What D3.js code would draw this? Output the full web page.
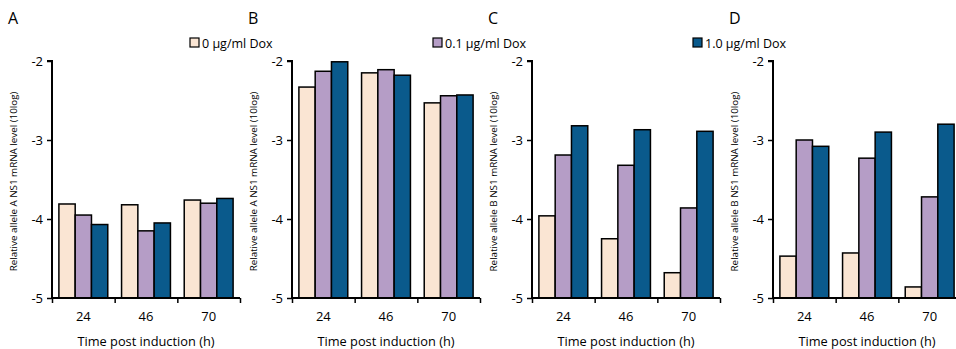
<!DOCTYPE html>
<html lang="en">
<head>
<meta charset="utf-8">
<title>NS1 mRNA levels</title>
<script src="https://cdn.jsdelivr.net/npm/d3@7"></script>
<style>
  body { margin: 0; background: #fff; }
  text { font-family: "Open Sans", "Noto Sans", sans-serif; fill: #000; }
</style>
</head>
<body>
<script>
// data
var times = ["24", "46", "70"];
var doses = ["0 µg/ml Dox", "0.1 µg/ml Dox", "1.0 µg/ml Dox"];
var panelLabels = ["A", "B", "C", "D"];
var yTitles = ["Relative allele A NS1 mRNA level (10log)",
               "Relative  allele A NS1 mRNA level (10log)",
               "Relative allele B NS1 mRNA level (10log)",
               "Relative allele B NS1 mRNA level (10log)"];
// values per panel: [time][dose]
var panelA = [[-3.81, -3.95, -4.07], [-3.82, -4.15, -4.05], [-3.76, -3.80, -3.74]];
var panelB = [[-2.33, -2.13, -2.01], [-2.15, -2.11, -2.18], [-2.53, -2.44, -2.43]];
var panelC = [[-3.96, -3.19, -2.82], [-4.25, -3.32, -2.87], [-4.68, -3.86, -2.89]];
var panelD = [[-4.47, -3.00, -3.08], [-4.43, -3.23, -2.90], [-4.86, -3.72, -2.80]];
var yTicks = [-2, -3, -4, -5];

var panels = [panelA, panelB, panelC, panelD];
var colors = ["#FAE5D3", "#B59DC6", "#0A5A8C"];

var svg = d3.select("body").append("svg")
    .attr("width", 956)
    .attr("height", 349);

var axisLeft = [52, 292, 532, 773];
var yTop = 61, yBottom = 298, w = 188;

var y = d3.scaleLinear().domain([-5, -2]).range([yBottom, yTop]);

var x0 = d3.scaleBand().domain(times).range([0, w])
    .paddingInner(0.22).paddingOuter(0.11);
var x1 = d3.scaleBand().domain(d3.range(doses.length)).range([0, x0.bandwidth()]);
var xEdge = d3.scaleLinear().domain([0, times.length]).range([0, w]);

panels.forEach(function(vals, p) {
  var g = svg.append("g").attr("transform", "translate(" + axisLeft[p] + ",0)");

  // bars
  g.selectAll("g.grp")
    .data(vals)
    .enter().append("g")
    .attr("transform", function(d, i) { return "translate(" + x0(times[i]) + ",0)"; })
    .selectAll("rect")
    .data(function(d) { return d; })
    .enter().append("rect")
    .attr("x", function(d, j) { return x1(j); })
    .attr("y", function(d) { return y(d); })
    .attr("width", x1.bandwidth())
    .attr("height", function(d) { return y(-5) - y(d); })
    .attr("fill", function(d, j) { return colors[j]; })
    .attr("stroke", "#000")
    .attr("stroke-width", 1.5);

  // y axis
  var ya = g.append("g")
    .call(d3.axisLeft(y).tickValues(yTicks).tickSize(5).tickPadding(4).tickFormat(function(d) { return String(d); }));
  ya.select(".domain").attr("stroke-width", 2).attr("d", "M-5," + yTop + "H0V" + yBottom);
  ya.selectAll(".tick line").attr("stroke-width", 1.5);
  ya.selectAll("text").style("font-size", "13px").style("font-family", "'Open Sans', sans-serif");

  // x axis edges
  var xa = g.append("g").attr("transform", "translate(0," + yBottom + ")")
    .call(d3.axisBottom(xEdge).tickValues(d3.range(times.length + 1)).tickSize(5).tickFormat(""));
  xa.select(".domain").attr("stroke-width", 2).attr("d", "M0,0H" + w);
  xa.selectAll(".tick line").attr("stroke-width", 1.5);

  // x labels
  var xl = g.append("g").attr("transform", "translate(0," + yBottom + ")")
    .call(d3.axisBottom(x0).tickSize(0).tickPadding(14));
  xl.select(".domain").remove();
  xl.selectAll("text").style("font-size", "13px").style("font-family", "'Open Sans', sans-serif");

  g.append("text")
    .attr("x", w / 2)
    .attr("y", 346)
    .attr("text-anchor", "middle")
    .style("font-size", "12.8px")
    .text("Time post induction (h)");

  g.append("text")
    .attr("transform", "translate(-35," + ((yTop + yBottom) / 2 + 2) + ") rotate(-90)")
    .attr("text-anchor", "middle")
    .style("font-size", "9.8px")
    .text(yTitles[p]);

  g.append("text")
    .attr("x", -44)
    .attr("y", 24)
    .style("font-size", "16px")
    .text(panelLabels[p]);
});

// legend
var legendX = [190, 433, 693];
doses.forEach(function(d, i) {
  var lg = svg.append("g").attr("transform", "translate(" + legendX[i] + ",38)");
  lg.append("rect")
    .attr("width", 9).attr("height", 9)
    .attr("fill", colors[i]).attr("stroke", "#000").attr("stroke-width", 1.2);
  lg.append("text")
    .attr("x", 12).attr("y", 9.5)
    .style("font-size", "12.5px")
    .text(d);
});
</script>
</body>
</html>
